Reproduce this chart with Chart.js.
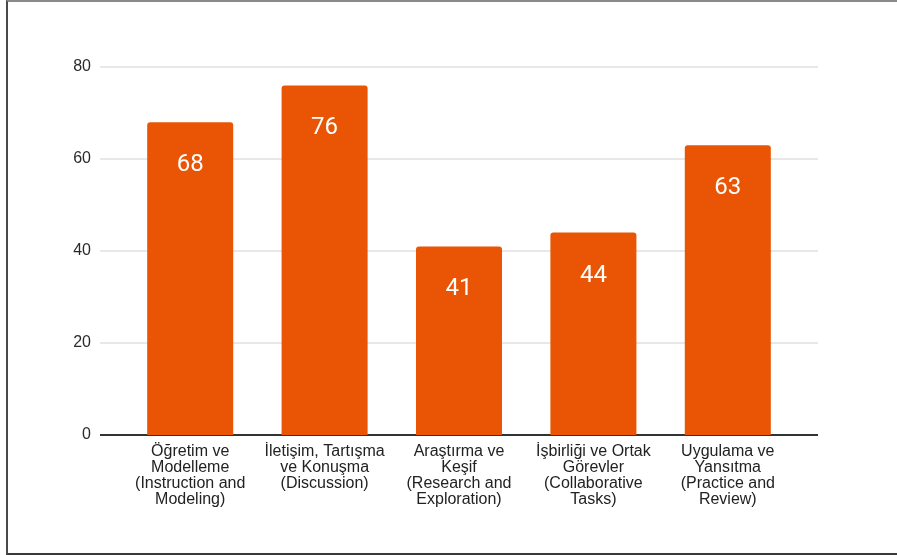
<!DOCTYPE html>
<html>
<head>
<meta charset="utf-8">
<script src="https://cdn.jsdelivr.net/npm/chart.js@4"></script>
<style>
  html, body { margin: 0; padding: 0; background: #fff; overflow: hidden; }
  #wrap { position: relative; width: 897px; height: 555px; }
  #frame {
    position: absolute; left: 6px; top: 0; width: 1000px; height: 551px;
    border-top: 2px solid #8a8a8a; border-left: 2px solid #4a4a4a; border-bottom: 2px solid #3a3a3a;
  }
  #chart { position: absolute; left: 0; top: 0; }
</style>
</head>
<body>
<div id="wrap">
  <div id="frame"></div>
  <canvas id="chart" width="897" height="555"></canvas>
</div>
<script>
// categories (Turkish with English in brackets), one line per array item
const categories = [
  ["Öğretim ve", "Modelleme", "(Instruction and", "Modeling)"],
  ["İletişim, Tartışma", "ve Konuşma", "(Discussion)"],
  ["Araştırma ve", "Keşif", "(Research and", "Exploration)"],
  ["İşbirliği ve Ortak", "Görevler", "(Collaborative", "Tasks)"],
  ["Uygulama ve", "Yansıtma", "(Practice and", "Review)"],
];
const values = [68, 76, 41, 44, 63];
const yTicks = [0, 20, 40, 60, 80];

const BAR_COLOR = "#e95504";
const GRID = "#e0e0e0";
const ZERO = "#333333";
const GRID_EXTEND = 23; // gridlines run a bit past the bar area on both sides

// horizontal gridlines, drawn from the y scale ticks
const gridLines = {
  id: "gridLines",
  beforeDatasetsDraw(chart) {
    const { ctx, chartArea, scales } = chart;
    ctx.save();
    scales.y.ticks.forEach((t) => {
      const y = Math.round(scales.y.getPixelForValue(t.value));
      const zero = t.value === 0;
      ctx.strokeStyle = zero ? ZERO : GRID;
      ctx.lineWidth = zero ? 2 : 1.5;
      ctx.beginPath();
      ctx.moveTo(chartArea.left - GRID_EXTEND, y);
      ctx.lineTo(chartArea.right + GRID_EXTEND, y);
      ctx.stroke();
    });
    ctx.restore();
  },
};

// white value labels inside the top of each bar
const valueLabels = {
  id: "valueLabels",
  afterDatasetsDraw(chart) {
    const ctx = chart.ctx;
    const meta = chart.getDatasetMeta(0);
    ctx.save();
    ctx.fillStyle = "#ffffff";
    ctx.font = "24px Roboto";
    ctx.textAlign = "center";
    ctx.textBaseline = "middle";
    meta.data.forEach((bar, i) => {
      ctx.fillText(String(values[i]), bar.x, bar.y + 43);
    });
    ctx.restore();
  },
};

new Chart(document.getElementById("chart"), {
  type: "bar",
  data: {
    labels: categories,
    datasets: [{
      data: values,
      backgroundColor: BAR_COLOR,
      borderRadius: 3,
      borderSkipped: "start",
      categoryPercentage: 1,
      barPercentage: 0.64,
    }],
  },
  options: {
    responsive: false,
    animation: false,
    devicePixelRatio: 1,
    layout: { padding: { top: 67, left: 0, right: 102, bottom: 0 } },
    plugins: { legend: { display: false }, tooltip: { enabled: false } },
    scales: {
      x: {
        grid: { display: false, drawTicks: false },
        border: { display: false },
        ticks: {
          color: "#222",
          font: { family: "'Liberation Sans', Arial", size: 16, lineHeight: 1 },
          padding: 9,
          maxRotation: 0,
          autoSkip: false,
        },
        afterFit: (s) => { s.height = 120; },
      },
      y: {
        min: yTicks[0],
        max: yTicks[yTicks.length - 1],
        afterBuildTicks: (s) => { s.ticks = yTicks.map((v) => ({ value: v })); },
        grid: { display: false, drawTicks: false },
        border: { display: false },
        ticks: {
          color: "#2a2a2a",
          font: { family: "'Liberation Sans', Arial", size: 16 },
          padding: 32,
        },
        afterFit: (s) => { s.width = 123; },
      },
    },
  },
  plugins: [gridLines, valueLabels],
});
</script>
</body>
</html>
